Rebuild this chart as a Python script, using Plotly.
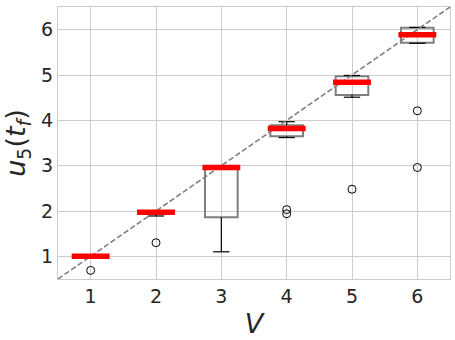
import plotly.graph_objects as go

V = [1, 2, 3, 4, 5, 6]
median = [1.00, 1.97, 2.96, 3.82, 4.84, 5.89]
q1 = [1.00, 1.97, 1.86, 3.65, 4.56, 5.71]
q3 = [1.00, 1.97, 2.96, 3.89, 4.97, 6.04]
whisk_lo = [1.00, 1.89, 1.10, 3.62, 4.51, 5.70]
whisk_hi = [1.00, 1.97, 2.96, 3.97, 4.99, 6.05]
outlier_x = [1, 2, 4, 4, 5, 6, 6]
outlier_y = [0.69, 1.30, 2.03, 1.94, 2.48, 4.21, 2.96]
ticks = [1, 2, 3, 4, 5, 6]

BOX_W = 0.5
CAP_W = 0.25

fig = go.Figure()

# whiskers (black) with caps
wx, wy = [], []
for v, lo, hi, a, b in zip(V, whisk_lo, whisk_hi, q1, q3):
    wx += [v, v, None, v - CAP_W / 2, v + CAP_W / 2, None,
           v, v, None, v - CAP_W / 2, v + CAP_W / 2, None]
    wy += [a, lo, None, lo, lo, None, b, hi, None, hi, hi, None]
fig.add_trace(go.Scatter(x=wx, y=wy, mode="lines",
                         line=dict(color="black", width=1.2),
                         hoverinfo="skip", showlegend=False))

# boxes (grey outline)
fig.add_trace(go.Box(x=V, q1=q1, median=median, q3=q3,
                     lowerfence=q1, upperfence=q3, width=BOX_W,
                     line=dict(color="#7f7f7f", width=2),
                     fillcolor="rgba(255,255,255,0)",
                     whiskerwidth=0, showlegend=False))

# identity reference line
fig.add_trace(go.Scatter(x=[0.5, 6.5], y=[0.5, 6.5], mode="lines",
                         line=dict(color="#808080", width=1.6, dash="5.5px,2.5px"),
                         hoverinfo="skip", showlegend=False))

# red medians
mx, my = [], []
for v, m in zip(V, median):
    mx += [v - BOX_W / 2 - 0.04, v + BOX_W / 2 + 0.04, None]
    my += [m, m, None]
fig.add_trace(go.Scatter(x=mx, y=my, mode="lines",
                         line=dict(color="red", width=5.5),
                         hoverinfo="skip", showlegend=False))

# outliers
fig.add_trace(go.Scatter(x=outlier_x, y=outlier_y, mode="markers",
                         marker=dict(symbol="circle-open", size=8,
                                     color="black", line=dict(width=1)),
                         showlegend=False))

axis_common = dict(range=[0.5, 6.5], tickvals=ticks,
                   ticktext=[str(t) for t in ticks],
                   showgrid=True, gridcolor="#cccccc", gridwidth=1,
                   showline=True, linecolor="#cccccc", linewidth=1, mirror=True,
                   zeroline=False, ticks="",
                   tickfont=dict(family="DejaVu Sans", size=19, color="#262626"))

fig.update_layout(
    width=455, height=340,
    margin=dict(l=58, r=5, t=7, b=61),
    plot_bgcolor="white", paper_bgcolor="white",
    xaxis=dict(**axis_common,
               title=dict(text="<i>V</i>", standoff=8,
                          font=dict(family="DejaVu Sans", size=27, color="#262626"))),
    yaxis=dict(**axis_common,
               title=dict(text="<i>u</i><sub>5</sub>(<i>t</i><sub><i>f</i></sub>)",
                          standoff=8,
                          font=dict(family="DejaVu Sans", size=27, color="#262626"))),
)

fig.write_html("out.html")
